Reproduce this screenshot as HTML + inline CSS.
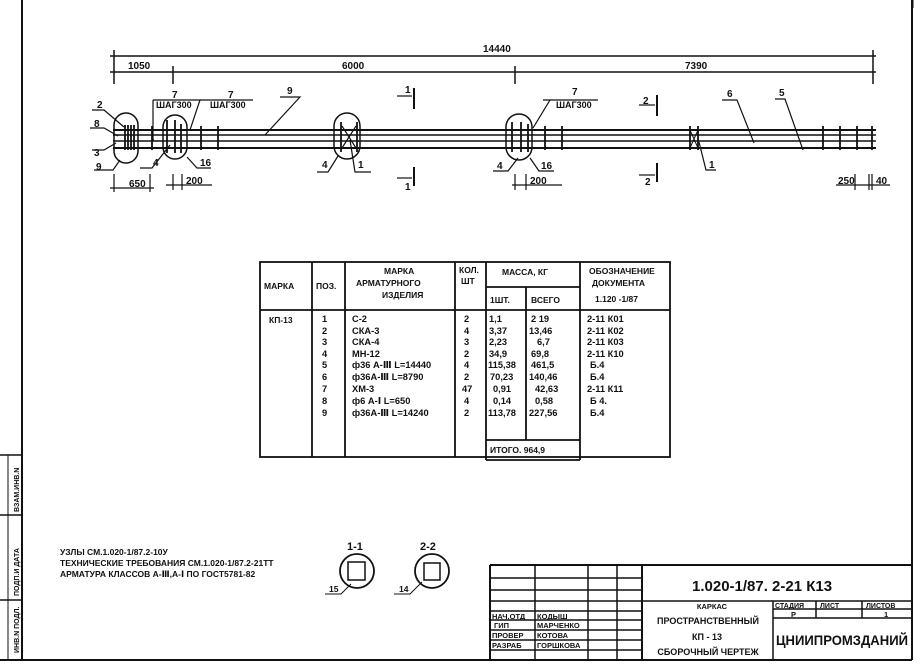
<!DOCTYPE html>
<html><head><meta charset="utf-8"><style>
body{margin:0;background:#fff}
svg{display:block}
text{font-family:"Liberation Sans","DejaVu Sans",sans-serif;font-weight:bold;fill:#111}
</style></head><body>
<svg width="921" height="667" viewBox="0 0 921 667" xmlns="http://www.w3.org/2000/svg">
<g stroke="#111" fill="none">
<line x1="22" y1="0" x2="22" y2="660" stroke-width="2"/>
<line x1="912" y1="0" x2="912" y2="660" stroke-width="2"/>
<line x1="0" y1="660" x2="912" y2="660" stroke-width="2"/>
<line x1="0" y1="455" x2="22" y2="455" stroke-width="1.5"/>
<line x1="0" y1="515" x2="22" y2="515" stroke-width="1.5"/>
<line x1="0" y1="600" x2="22" y2="600" stroke-width="1.5"/>
<line x1="8" y1="455" x2="8" y2="660" stroke-width="1"/>
<line x1="913" y1="0" x2="913" y2="8" stroke-width="1"/>
<line x1="110" y1="56" x2="876" y2="56" stroke-width="1.5"/>
<line x1="110" y1="72" x2="876" y2="72" stroke-width="1.5"/>
<line x1="114" y1="50" x2="114" y2="84" stroke-width="1.5"/>
<line x1="173" y1="66" x2="173" y2="84" stroke-width="1.5"/>
<line x1="515" y1="66" x2="515" y2="84" stroke-width="1.5"/>
<line x1="873" y1="50" x2="873" y2="84" stroke-width="1.5"/>
<line x1="113" y1="130" x2="876" y2="130" stroke-width="2"/>
<line x1="113" y1="135" x2="876" y2="135" stroke-width="1.5"/>
<line x1="113" y1="141" x2="876" y2="141" stroke-width="1.5"/>
<line x1="113" y1="148" x2="876" y2="148" stroke-width="2"/>
<g stroke-width="1.8">
<line x1="125" y1="125" x2="125" y2="150"/><line x1="128" y1="125" x2="128" y2="150"/><line x1="131" y1="125" x2="131" y2="150"/><line x1="134" y1="125" x2="134" y2="150"/>
<line x1="152" y1="126" x2="152" y2="150"/>
<line x1="167" y1="120" x2="167" y2="153"/><line x1="175" y1="120" x2="175" y2="153"/><line x1="181" y1="124" x2="181" y2="153"/>
<line x1="201" y1="126" x2="201" y2="150"/><line x1="218" y1="126" x2="218" y2="150"/>
<line x1="341" y1="122" x2="341" y2="152"/><line x1="357" y1="122" x2="357" y2="152"/>
<line x1="512" y1="122" x2="512" y2="152"/><line x1="521" y1="122" x2="521" y2="152"/><line x1="528" y1="124" x2="528" y2="152"/>
<line x1="545" y1="126" x2="545" y2="150"/><line x1="562" y1="126" x2="562" y2="150"/>
<line x1="690" y1="126" x2="690" y2="150"/><line x1="698" y1="126" x2="698" y2="150"/>
<line x1="823" y1="126" x2="823" y2="150"/><line x1="840" y1="126" x2="840" y2="150"/><line x1="857" y1="126" x2="857" y2="150"/><line x1="872" y1="126" x2="872" y2="150"/>
</g>
<line x1="342" y1="126" x2="356" y2="148" stroke-width="1.2"/><line x1="356" y1="126" x2="342" y2="148" stroke-width="1.2"/>
<line x1="690" y1="130" x2="698" y2="148" stroke-width="1"/><line x1="698" y1="130" x2="690" y2="148" stroke-width="1"/>
<rect x="114" y="113" width="24" height="50" rx="12" stroke-width="1.5"/>
<rect x="163" y="115" width="24" height="44" rx="12" stroke-width="1.5"/>
<rect x="334" y="113" width="26" height="46" rx="13" stroke-width="1.5"/>
<rect x="506" y="114" width="26" height="46" rx="13" stroke-width="1.5"/>
<g stroke-width="1.2">
<polyline points="92,110 104,110 124,127"/><polyline points="90,128 104,128 118,136"/><polyline points="92,150 104,150 116,143"/><polyline points="94,170 113,170 120,160"/>
<polyline points="153,100 153,140 154,140"/><polyline points="153,100 200,100 190,130"/><polyline points="200,100 253,100"/>
<polyline points="280,97 300,97 265,135"/>
<polyline points="140,168 152,168 170,145"/><polyline points="211,168 197,168 187,157"/>
<polyline points="317,172 328,172 338,156"/><polyline points="371,172 355,172 350,140"/>
<polyline points="543,100 550,100 533,128"/><line x1="550" y1="100" x2="598" y2="100"/>
<polyline points="493,171 508,171 518,158"/><polyline points="554,171 539,171 530,158"/>
<polyline points="722,100 737,100 754,143"/><polyline points="775,99 785,99 803,150"/>
<polyline points="699,142 706,170 716,170"/>
<line x1="414" y1="88" x2="414" y2="109" stroke-width="2"/><line x1="397" y1="96" x2="412" y2="96"/>
<line x1="414" y1="167" x2="414" y2="186" stroke-width="2"/><line x1="397" y1="178" x2="412" y2="178"/>
<line x1="657" y1="95" x2="657" y2="116" stroke-width="2"/><line x1="639" y1="105" x2="655" y2="105"/>
<line x1="657" y1="163" x2="657" y2="182" stroke-width="2"/><line x1="639" y1="175" x2="655" y2="175"/>
<line x1="110" y1="188" x2="154" y2="188"/><line x1="114" y1="174" x2="114" y2="192"/><line x1="150" y1="174" x2="150" y2="192"/>
<line x1="166" y1="185" x2="212" y2="185"/><line x1="173" y1="174" x2="173" y2="190"/><line x1="182" y1="174" x2="182" y2="190"/>
<line x1="512" y1="185" x2="562" y2="185"/><line x1="515" y1="174" x2="515" y2="190"/><line x1="526" y1="174" x2="526" y2="190"/>
<line x1="836" y1="185" x2="890" y2="185"/><line x1="855" y1="174" x2="855" y2="190"/><line x1="869" y1="174" x2="869" y2="190"/><line x1="872" y1="174" x2="872" y2="190"/>
</g>
<g stroke-width="1.8">
<rect x="260" y="262" width="410" height="195"/>
<line x1="260" y1="310" x2="670" y2="310"/>
<line x1="312" y1="262" x2="312" y2="457"/><line x1="345" y1="262" x2="345" y2="457"/>
<line x1="455" y1="262" x2="455" y2="457"/><line x1="486" y1="262" x2="486" y2="460"/>
<line x1="580" y1="262" x2="580" y2="460"/>
<line x1="486" y1="287" x2="580" y2="287"/><line x1="526" y1="287" x2="526" y2="440"/>
<line x1="486" y1="440" x2="580" y2="440"/><line x1="486" y1="460" x2="580" y2="460"/>
</g>
<circle cx="357" cy="571" r="17" stroke-width="1.8"/><rect x="348" y="562" width="17" height="18" stroke-width="1.5"/>
<circle cx="432" cy="571" r="17" stroke-width="1.8"/><rect x="424" y="563" width="16" height="17" stroke-width="1.5"/>
<polyline points="325,594 341,594 351,584"/><polyline points="394,594 410,594 422,582"/>
<g stroke-width="1.5">
<line x1="490" y1="565" x2="912" y2="565" stroke-width="2"/>
<line x1="490" y1="565" x2="490" y2="660" stroke-width="2"/>
<line x1="535" y1="565" x2="535" y2="660"/><line x1="588" y1="565" x2="588" y2="660"/><line x1="617" y1="565" x2="617" y2="660"/>
<line x1="642" y1="565" x2="642" y2="660" stroke-width="2"/>
<line x1="490" y1="578" x2="642" y2="578"/><line x1="490" y1="590" x2="642" y2="590"/><line x1="490" y1="601" x2="912" y2="601"/>
<line x1="490" y1="611" x2="642" y2="611"/><line x1="490" y1="620" x2="642" y2="620"/><line x1="490" y1="630" x2="642" y2="630"/><line x1="490" y1="640" x2="642" y2="640"/><line x1="490" y1="650" x2="642" y2="650"/>
<line x1="773" y1="601" x2="773" y2="660"/><line x1="773" y1="609" x2="912" y2="609"/><line x1="773" y1="618" x2="912" y2="618"/>
<line x1="816" y1="601" x2="816" y2="618"/><line x1="862" y1="601" x2="862" y2="618"/>
</g>
</g>
<g font-size="10">
<text x="483" y="52">14440</text>
<text x="128" y="69">1050</text><text x="342" y="69">6000</text><text x="685" y="69">7390</text>
<text x="97" y="108">2</text><text x="94" y="127">8</text><text x="94" y="156">3</text><text x="96" y="170">9</text>
<text x="172" y="98">7</text><text x="156" y="108" font-size="9">ШАГ300</text>
<text x="228" y="98">7</text><text x="210" y="108" font-size="9">ШАГ300</text>
<text x="287" y="94">9</text>
<text x="153" y="166">4</text><text x="200" y="166">16</text>
<text x="322" y="168">4</text><text x="358" y="168">1</text>
<text x="405" y="93">1</text><text x="405" y="190">1</text>
<text x="572" y="95">7</text><text x="556" y="108" font-size="9">ШАГ300</text>
<text x="497" y="169">4</text><text x="541" y="169">16</text>
<text x="643" y="104">2</text><text x="645" y="185">2</text>
<text x="727" y="97">6</text><text x="779" y="96">5</text><text x="709" y="168">1</text>
<text x="129" y="187">650</text><text x="186" y="184">200</text><text x="530" y="184">200</text>
<text x="838" y="184">250</text><text x="876" y="184">40</text>
</g>
<g font-size="8.5">
<text x="264" y="289">МАРКА</text><text x="316" y="289">ПОЗ.</text>
<text x="384" y="274">МАРКА</text><text x="356" y="286">АРМАТУРНОГО</text><text x="382" y="298">ИЗДЕЛИЯ</text>
<text x="459" y="273">КОЛ.</text><text x="461" y="284">ШТ</text>
<text x="502" y="275">МАССА, КГ</text><text x="490" y="303">1ШТ.</text><text x="531" y="303">ВСЕГО</text>
<text x="589" y="274">ОБОЗНАЧЕНИЕ</text><text x="592" y="286">ДОКУМЕНТА</text><text x="595" y="302">1.120 -1/87</text>
<text x="269" y="323">КП-13</text>
</g>
<g font-size="9.3">
<text x="322" y="322">1</text><text x="322" y="334">2</text><text x="322" y="345">3</text><text x="322" y="357">4</text><text x="322" y="368">5</text><text x="322" y="380">6</text><text x="322" y="392">7</text><text x="322" y="404">8</text><text x="322" y="416">9</text>
<text x="352" y="322">С-2</text><text x="352" y="334">СКА-3</text><text x="352" y="345">СКА-4</text><text x="352" y="357">МН-12</text><text x="352" y="368">ф36 А-Ⅲ L=14440</text><text x="352" y="380">ф36А-Ⅲ L=8790</text><text x="352" y="392">ХМ-3</text><text x="352" y="404">ф6 А-Ⅰ L=650</text><text x="352" y="416">ф36А-Ⅲ L=14240</text>
<text x="464" y="322">2</text><text x="464" y="334">4</text><text x="464" y="345">3</text><text x="464" y="357">2</text><text x="464" y="368">4</text><text x="464" y="380">2</text><text x="462" y="392">47</text><text x="464" y="404">4</text><text x="464" y="416">2</text>
<text x="489" y="322">1,1</text><text x="489" y="334">3,37</text><text x="489" y="345">2,23</text><text x="489" y="357">34,9</text><text x="488" y="368">115,38</text><text x="490" y="380">70,23</text><text x="493" y="392">0,91</text><text x="493" y="404">0,14</text><text x="488" y="416">113,78</text>
<text x="531" y="322">2 19</text><text x="529" y="334">13,46</text><text x="537" y="345">6,7</text><text x="531" y="357">69,8</text><text x="531" y="368">461,5</text><text x="529" y="380">140,46</text><text x="535" y="392">42,63</text><text x="535" y="404">0,58</text><text x="529" y="416">227,56</text>
<text x="490" y="453" font-size="8.5">ИТОГО.  964,9</text>
<text x="587" y="322">2-11  К01</text><text x="587" y="334">2-11  К02</text><text x="587" y="345">2-11  К03</text><text x="587" y="357">2-11  К10</text><text x="590" y="368">Б.4</text><text x="590" y="380">Б.4</text><text x="587" y="392">2-11   К11</text><text x="590" y="404">Б 4.</text><text x="590" y="416">Б.4</text>
</g>
<g font-size="8.5">
<text x="60" y="555">УЗЛЫ СМ.1.020-1/87.2-10У</text>
<text x="60" y="566">ТЕХНИЧЕСКИЕ ТРЕБОВАНИЯ СМ.1.020-1/87.2-21ТТ</text>
<text x="60" y="577">АРМАТУРА КЛАССОВ А-Ⅲ,А-Ⅰ ПО ГОСТ5781-82</text>
<text x="347" y="550" font-size="11" font-weight="normal">1-1</text><text x="420" y="550" font-size="11" font-weight="normal">2-2</text>
<text x="329" y="592">15</text><text x="399" y="592">14</text>
</g>
<g font-size="7.5">
<text x="492" y="619">НАЧ.ОТД</text><text x="537" y="619">КОДЫШ</text>
<text x="494" y="628">ГИП</text><text x="537" y="628">МАРЧЕНКО</text>
<text x="492" y="638">ПРОВЕР</text><text x="537" y="638">КОТОВА</text>
<text x="492" y="648">РАЗРАБ</text><text x="537" y="648">ГОРШКОВА</text>
<text x="712" y="609" text-anchor="middle">КАРКАС</text>
<text x="708" y="624" text-anchor="middle" font-size="9">ПРОСТРАНСТВЕННЫЙ</text>
<text x="707" y="640" text-anchor="middle" font-size="9">КП - 13</text>
<text x="708" y="655" text-anchor="middle" font-size="9">СБОРОЧНЫЙ ЧЕРТЕЖ</text>
<text x="775" y="608" font-size="7">СТАДИЯ</text><text x="820" y="608" font-size="7">ЛИСТ</text><text x="866" y="608" font-size="7">ЛИСТОВ</text>
<text x="791" y="617">Р</text><text x="884" y="617">1</text>
</g>
<text x="692" y="591" font-size="15" font-weight="normal">1.020-1/87. 2-21  К13</text>
<text x="776" y="645" font-size="14" font-weight="normal" textLength="132" lengthAdjust="spacingAndGlyphs">ЦНИИПРОМЗДАНИЙ</text>
<g font-size="7" transform="rotate(-90)">
<text x="-653" y="19">ИНВ.N ПОДЛ.</text><text x="-596" y="19">ПОДП.И ДАТА</text><text x="-512" y="19">ВЗАМ.ИНВ.N</text>
</g>
</svg>
</body></html>
